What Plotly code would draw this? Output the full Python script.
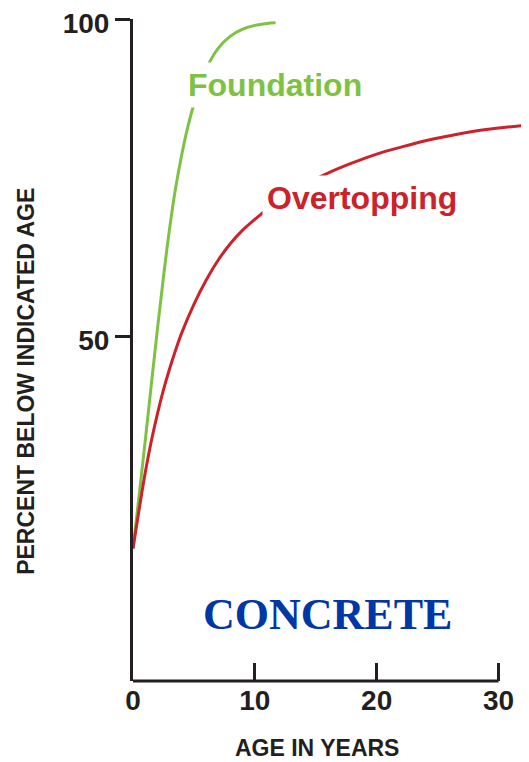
import plotly.graph_objects as go

# Data
foundation_years = [0, 0.5, 1, 1.5, 2, 2.5, 3, 3.5, 4, 4.5, 5, 5.5, 6, 7, 8, 9, 10, 11, 11.7]
foundation_pct = [16.5, 24.8, 33.4, 42.3, 51.0, 59.3, 66.9, 73.4, 78.6, 83.0, 86.6, 89.6, 92.1, 95.4, 97.3, 98.4, 99.0, 99.3, 99.4]

overtopping_years = [0, 0.5, 1, 1.5, 2, 2.5, 3, 3.5, 4, 5, 6, 7, 8, 9, 10, 12, 14, 16, 18, 20, 22, 24, 26, 28, 30, 32.5]
overtopping_pct = [16.5, 22.6, 28.4, 33.4, 37.7, 41.5, 44.8, 47.8, 50.5, 55.0, 58.8, 62.0, 64.6, 66.7, 68.4,
                   71.4, 73.8, 75.7, 77.3, 78.7, 79.8, 80.8, 81.6, 82.3, 82.8, 83.3]

x_ticks = [0, 10, 20, 30]
y_ticks = [50, 100]

GREEN = "#7DC242"
RED = "#CC2229"
BLUE = "#0037A6"
INK = "#231F20"

fig = go.Figure()
fig.add_trace(go.Scatter(x=foundation_years, y=foundation_pct, mode="lines",
                         line=dict(color=GREEN, width=3, shape="spline", smoothing=1.0),
                         name="Foundation", showlegend=False, hoverinfo="skip"))
fig.add_trace(go.Scatter(x=overtopping_years, y=overtopping_pct, mode="lines",
                         line=dict(color=RED, width=3, shape="spline", smoothing=1.0),
                         name="Overtopping", showlegend=False, hoverinfo="skip"))

label_font = dict(family="Liberation Sans, Arial, sans-serif", size=32, weight="bold")
title_font = dict(family="Liberation Sans, Arial, sans-serif", size=23, color=INK, weight="bold")
tick_font = dict(family="Liberation Sans, Arial, sans-serif", size=28, color=INK, weight="bold")

fig.add_annotation(x=4.1, y=89.6, xref="x", yref="y", text="Foundation", showarrow=False,
                   xanchor="left", yanchor="middle", bgcolor="white", borderpad=4,
                   font=dict(color=GREEN, **label_font))
fig.add_annotation(x=10.6, y=71.8, xref="x", yref="y", text="Overtopping", showarrow=False,
                   xanchor="left", yanchor="middle", bgcolor="white", borderpad=4,
                   font=dict(color=RED, **label_font))
fig.add_annotation(x=16.0, y=6.1, xref="x", yref="y", text="CONCRETE", showarrow=False,
                   xanchor="center", yanchor="middle",
                   font=dict(family="Liberation Serif, Times New Roman, serif", size=44,
                             weight="bold", color=BLUE))

# axis titles placed as in the reference
fig.add_annotation(x=-0.27, y=0.452, xref="paper", yref="paper", text="PERCENT BELOW INDICATED AGE",
                   showarrow=False, textangle=-90, xanchor="center", yanchor="middle", font=title_font)
fig.add_annotation(x=0.465, y=-0.101, xref="paper", yref="paper", text="AGE IN YEARS",
                   showarrow=False, xanchor="center", yanchor="middle", font=title_font)

# x axis line stops at 30 like the reference
fig.add_shape(type="line", xref="x", yref="paper", x0=0, x1=30, y0=0, y1=0,
              line=dict(color=INK, width=3))

fig.update_xaxes(range=[0, 32.5], tickvals=x_ticks, ticktext=[str(v) for v in x_ticks],
                 ticks="inside", ticklen=18, tickwidth=3, tickcolor=INK,
                 showline=False, showgrid=False, zeroline=False, automargin=False,
                 ticklabeloverflow="allow", tickfont=tick_font)
fig.update_yaxes(range=[-4.4, 100], tickvals=y_ticks, ticktext=[str(v) for v in y_ticks],
                 ticks="outside", ticklen=15, tickwidth=2.5, tickcolor=INK,
                 showline=True, linewidth=3, linecolor=INK,
                 showgrid=False, zeroline=False, automargin=False,
                 ticklabeloverflow="allow", ticklabelshift=4, tickfont=tick_font)

# page body has an 8px default margin, so the figure is 8px smaller than the window
fig.update_layout(width=521, height=754, margin=dict(l=125, r=0, t=11, b=81),
                  paper_bgcolor="white", plot_bgcolor="white")

fig.write_html("out.html")
